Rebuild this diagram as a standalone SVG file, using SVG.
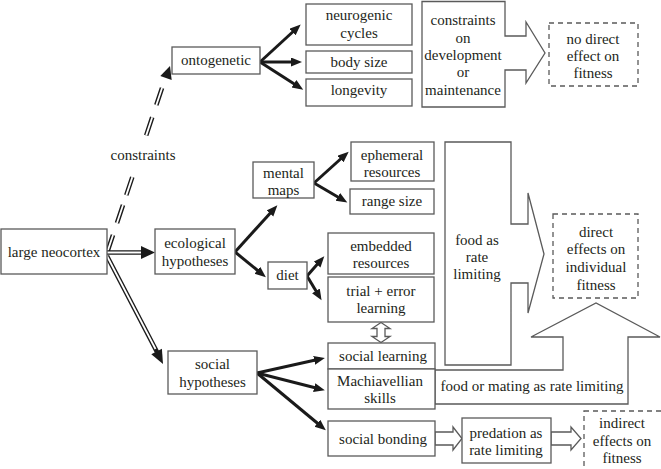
<svg xmlns="http://www.w3.org/2000/svg" width="661" height="469" viewBox="0 0 661 469">
<style>
.box{fill:#fff;stroke:#5a5a5a;stroke-width:1.3}
.dbox{fill:#fff;stroke:#5a5a5a;stroke-width:1.3;stroke-dasharray:5 4}
.big{fill:#fff;stroke:#5a5a5a;stroke-width:1.3;stroke-linejoin:miter}
.t{font-family:"Liberation Serif","Times New Roman",serif;font-size:15px;fill:#231f20;text-anchor:middle}
.arr{fill:none;stroke:#1a1a1a;stroke-width:3;marker-end:url(#ah)}
.dblk{fill:none;stroke:#1a1a1a;stroke-width:4.6}
.dwht{fill:none;stroke:#fff;stroke-width:1.8}
</style>
<defs>
<marker id="ah" markerUnits="userSpaceOnUse" markerWidth="12" markerHeight="10" refX="6" refY="4.5" orient="auto">
<path d="M0,0 L11,4.5 L0,9 z" fill="#1a1a1a"/>
</marker>
</defs>
<rect width="661" height="469" fill="#fff"/>

<g id="connectors">
<path class="dblk" d="M107,253 L169,67" stroke-dasharray="19 12.6 19 10.4 19 44 19 13 18 40"/>
<path class="dwht" d="M107,253 L169,67" stroke-dasharray="19 12.6 19 10.4 19 44 19 13 18 40"/>
<polygon points="170,66 171.7,79.9 160.3,76.1" fill="#1a1a1a"/>
<path class="dblk" d="M107,252.5 L143,252.5"/>
<path class="dwht" d="M107,252.5 L143,252.5"/>
<polygon points="141,246 155,252.5 141,259" fill="#1a1a1a"/>
<path class="dblk" d="M107,256 L157,352"/>
<path class="dwht" d="M107,256 L155.5,349"/>
<polygon points="163,364 161.9,348.8 151.3,354.2" fill="#1a1a1a"/>
<path class="arr" d="M260,62 L297,28"/>
<path class="arr" d="M260,62 L297,62"/>
<path class="arr" d="M260,62 L299,87"/>
<path class="arr" d="M235,252 L274,209"/>
<path class="arr" d="M235,252 L262,274"/>
<path class="arr" d="M314,183 L345,155"/>
<path class="arr" d="M314,183 L343,200"/>
<path class="arr" d="M307,276 L321,260"/>
<path class="arr" d="M307,276 L319,296"/>
<path class="arr" d="M257,373 L320,359"/>
<path class="arr" d="M257,373 L320,389"/>
<path class="arr" d="M257,373 L322,427"/>
<polygon class="big" points="381,322.5 390,328.5 385,328.5 385,336.5 390,336.5 381,342.5 372,336.5 377,336.5 377,328.5 372,328.5"/>
<polygon class="big" points="435,432 453,432 453,427 462,438.5 453,450 453,445 435,445"/>
<polygon class="big" points="551,432 571,432 571,427 581,438.5 571,450 571,445 551,445"/>
</g>

<g id="ontogenetic"><rect class="box" x="172" y="47" width="88" height="27"/><text class="t" x="216" y="65">ontogenetic</text></g>
<g id="neurogenic"><rect class="box" x="306" y="4" width="106" height="41"/><text class="t" x="359" y="20">neurogenic</text><text class="t" x="359" y="38">cycles</text></g>
<g id="bodysize"><rect class="box" x="306" y="51" width="106" height="22"/><text class="t" x="359" y="67">body size</text></g>
<g id="longevity"><rect class="box" x="306" y="79" width="106" height="27"/><text class="t" x="359" y="95">longevity</text></g>
<g id="constraints-dev"><polygon class="big" points="422,1.5 505,1.5 505,36 526,36 526,22 545,53 526,83 526,70 505,70 505,107 422,107"/>
<text class="t" x="463" y="25">constraints</text><text class="t" x="463" y="43">on</text><text class="t" x="463" y="60">development</text><text class="t" x="463" y="77">or</text><text class="t" x="463" y="95">maintenance</text></g>
<g id="nodirect"><rect class="dbox" x="549" y="23" width="89" height="63"/><text class="t" x="593" y="44">no direct</text><text class="t" x="593" y="61">effect on</text><text class="t" x="593" y="78">fitness</text></g>

<g id="constraints-label"><text class="t" x="143" y="160">constraints</text></g>

<g id="largeneocortex"><rect class="box" x="1" y="229" width="106" height="45"/><text class="t" x="54" y="257">large neocortex</text></g>
<g id="ecological"><rect class="box" x="155" y="229" width="80" height="45"/><text class="t" x="195" y="248">ecological</text><text class="t" x="195" y="266">hypotheses</text></g>
<g id="mentalmaps"><rect class="box" x="253" y="162" width="61" height="36"/><text class="t" x="283.5" y="178">mental</text><text class="t" x="283.5" y="195">maps</text></g>
<g id="ephemeral"><rect class="box" x="351" y="142" width="83" height="39"/><text class="t" x="392" y="160">ephemeral</text><text class="t" x="392" y="177">resources</text></g>
<g id="rangesize"><rect class="box" x="350" y="189" width="84" height="25"/><text class="t" x="392" y="206">range size</text></g>
<g id="diet"><rect class="box" x="268" y="262" width="39" height="27"/><text class="t" x="287.5" y="280">diet</text></g>
<g id="embedded"><rect class="box" x="328" y="233" width="106" height="41"/><text class="t" x="381" y="251">embedded</text><text class="t" x="381" y="268">resources</text></g>
<g id="trialerror"><rect class="box" x="328" y="277" width="106" height="45"/><text class="t" x="381" y="296">trial + error</text><text class="t" x="381" y="313">learning</text></g>

<g id="food"><polygon class="big" points="445,142 511,142 511,224 528,224 528,193 544,254 528,313 528,283 511,283 511,365 445,365"/>
<text class="t" x="477" y="245">food as</text><text class="t" x="477" y="262">rate</text><text class="t" x="477" y="279">limiting</text></g>
<g id="directeffects"><rect class="dbox" x="553" y="214" width="85" height="84"/><text class="t" x="596" y="237">direct</text><text class="t" x="596" y="254">effects on</text><text class="t" x="596" y="272">individual</text><text class="t" x="596" y="290">fitness</text></g>

<g id="socialhyp"><rect class="box" x="168" y="351" width="89" height="43"/><text class="t" x="212.5" y="369">social</text><text class="t" x="212.5" y="387">hypotheses</text></g>
<g id="foodmating"><polygon class="big" points="435,370 563,370 563,337 531,337 596,303 660,337 628,337 628,404 435,404"/>
<text class="t" x="532" y="391">food or mating as rate limiting</text></g>
<g id="sociallearning"><rect class="box" x="328" y="343" width="107" height="26"/><text class="t" x="383" y="361">social learning</text></g>
<g id="machiavellian"><rect class="box" x="328" y="369" width="107" height="40"/><text class="t" x="380" y="386">Machiavellian</text><text class="t" x="380" y="403">skills</text></g>
<g id="socialbonding"><rect class="box" x="328" y="421" width="107" height="35"/><text class="t" x="383" y="444">social bonding</text></g>
<g id="predation"><rect class="box" x="462" y="418" width="89" height="45"/><text class="t" x="506" y="438">predation as</text><text class="t" x="506" y="455">rate limiting</text></g>
<g id="indirect"><rect class="dbox" x="584" y="411" width="80" height="60"/><text class="t" x="622" y="428">indirect</text><text class="t" x="622" y="446">effects on</text><text class="t" x="622" y="463">fitness</text></g>
</svg>
